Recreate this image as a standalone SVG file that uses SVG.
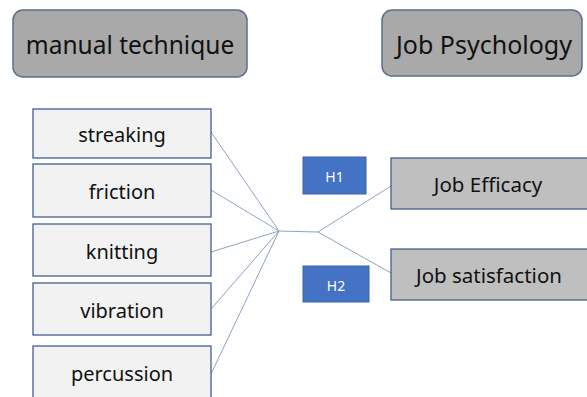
<svg xmlns="http://www.w3.org/2000/svg" width="587" height="397" viewBox="0 0 587 397">
<style>
text{font-family:"Noto Sans","Open Sans","Liberation Sans",sans-serif;fill:#111;text-anchor:middle;dominant-baseline:central}
.hdr{fill:#a9a9a9;stroke:#5a6e8c;stroke-width:1.5}
.src{fill:#f2f2f2;stroke:#41608c;stroke-width:1.3}
.dst{fill:#bfbfbf;stroke:#41608c;stroke-width:1.3}
.h{fill:#4472c4;stroke:#3a62a8;stroke-width:1}
.ht{fill:#fff;font-size:14px}
.c line{stroke:#8ea3c4;stroke-width:1}
</style>
<g id="manual-technique"><rect class="hdr" x="13" y="10" width="234" height="67" rx="10"/><text x="130" y="44" font-size="24.5">manual technique</text></g>
<g id="job-psychology"><rect class="hdr" x="382" y="10" width="200" height="66" rx="10"/><text x="484" y="44" font-size="25">Job Psychology</text></g>
<g class="c" id="connectors">
<line x1="211" y1="132" x2="279" y2="231"/>
<line x1="211" y1="190" x2="279" y2="231"/>
<line x1="211" y1="252" x2="279" y2="231"/>
<line x1="211" y1="309" x2="279" y2="231"/>
<line x1="211" y1="374" x2="279" y2="231"/>
<line x1="279" y1="231" x2="318" y2="232"/>
<line x1="318" y1="232" x2="391" y2="186"/>
<line x1="318" y1="232" x2="391" y2="273"/>
</g>
<g id="streaking"><rect class="src" x="33" y="109" width="178" height="49"/><text x="122" y="134" font-size="20">streaking</text></g>
<g id="friction"><rect class="src" x="33" y="164" width="178" height="53"/><text x="122" y="191" font-size="20">friction</text></g>
<g id="knitting"><rect class="src" x="33" y="224" width="178" height="52"/><text x="122" y="251" font-size="20">knitting</text></g>
<g id="vibration"><rect class="src" x="33" y="283" width="178" height="52"/><text x="122" y="310" font-size="20">vibration</text></g>
<g id="percussion"><rect class="src" x="33" y="346" width="178" height="60"/><text x="122" y="373" font-size="20">percussion</text></g>
<g id="h1"><rect class="h" x="303" y="157" width="63" height="37"/><text class="ht" x="334.5" y="176">H1</text></g>
<g id="h2"><rect class="h" x="303" y="266" width="66" height="36"/><text class="ht" x="336" y="285">H2</text></g>
<g id="job-efficacy"><rect class="dst" x="391" y="158" width="200" height="51"/><text x="488" y="184" font-size="20.5">Job Efficacy</text></g>
<g id="job-satisfaction"><rect class="dst" x="391" y="249" width="200" height="51"/><text x="489" y="275" font-size="20.5">Job satisfaction</text></g>
</svg>
